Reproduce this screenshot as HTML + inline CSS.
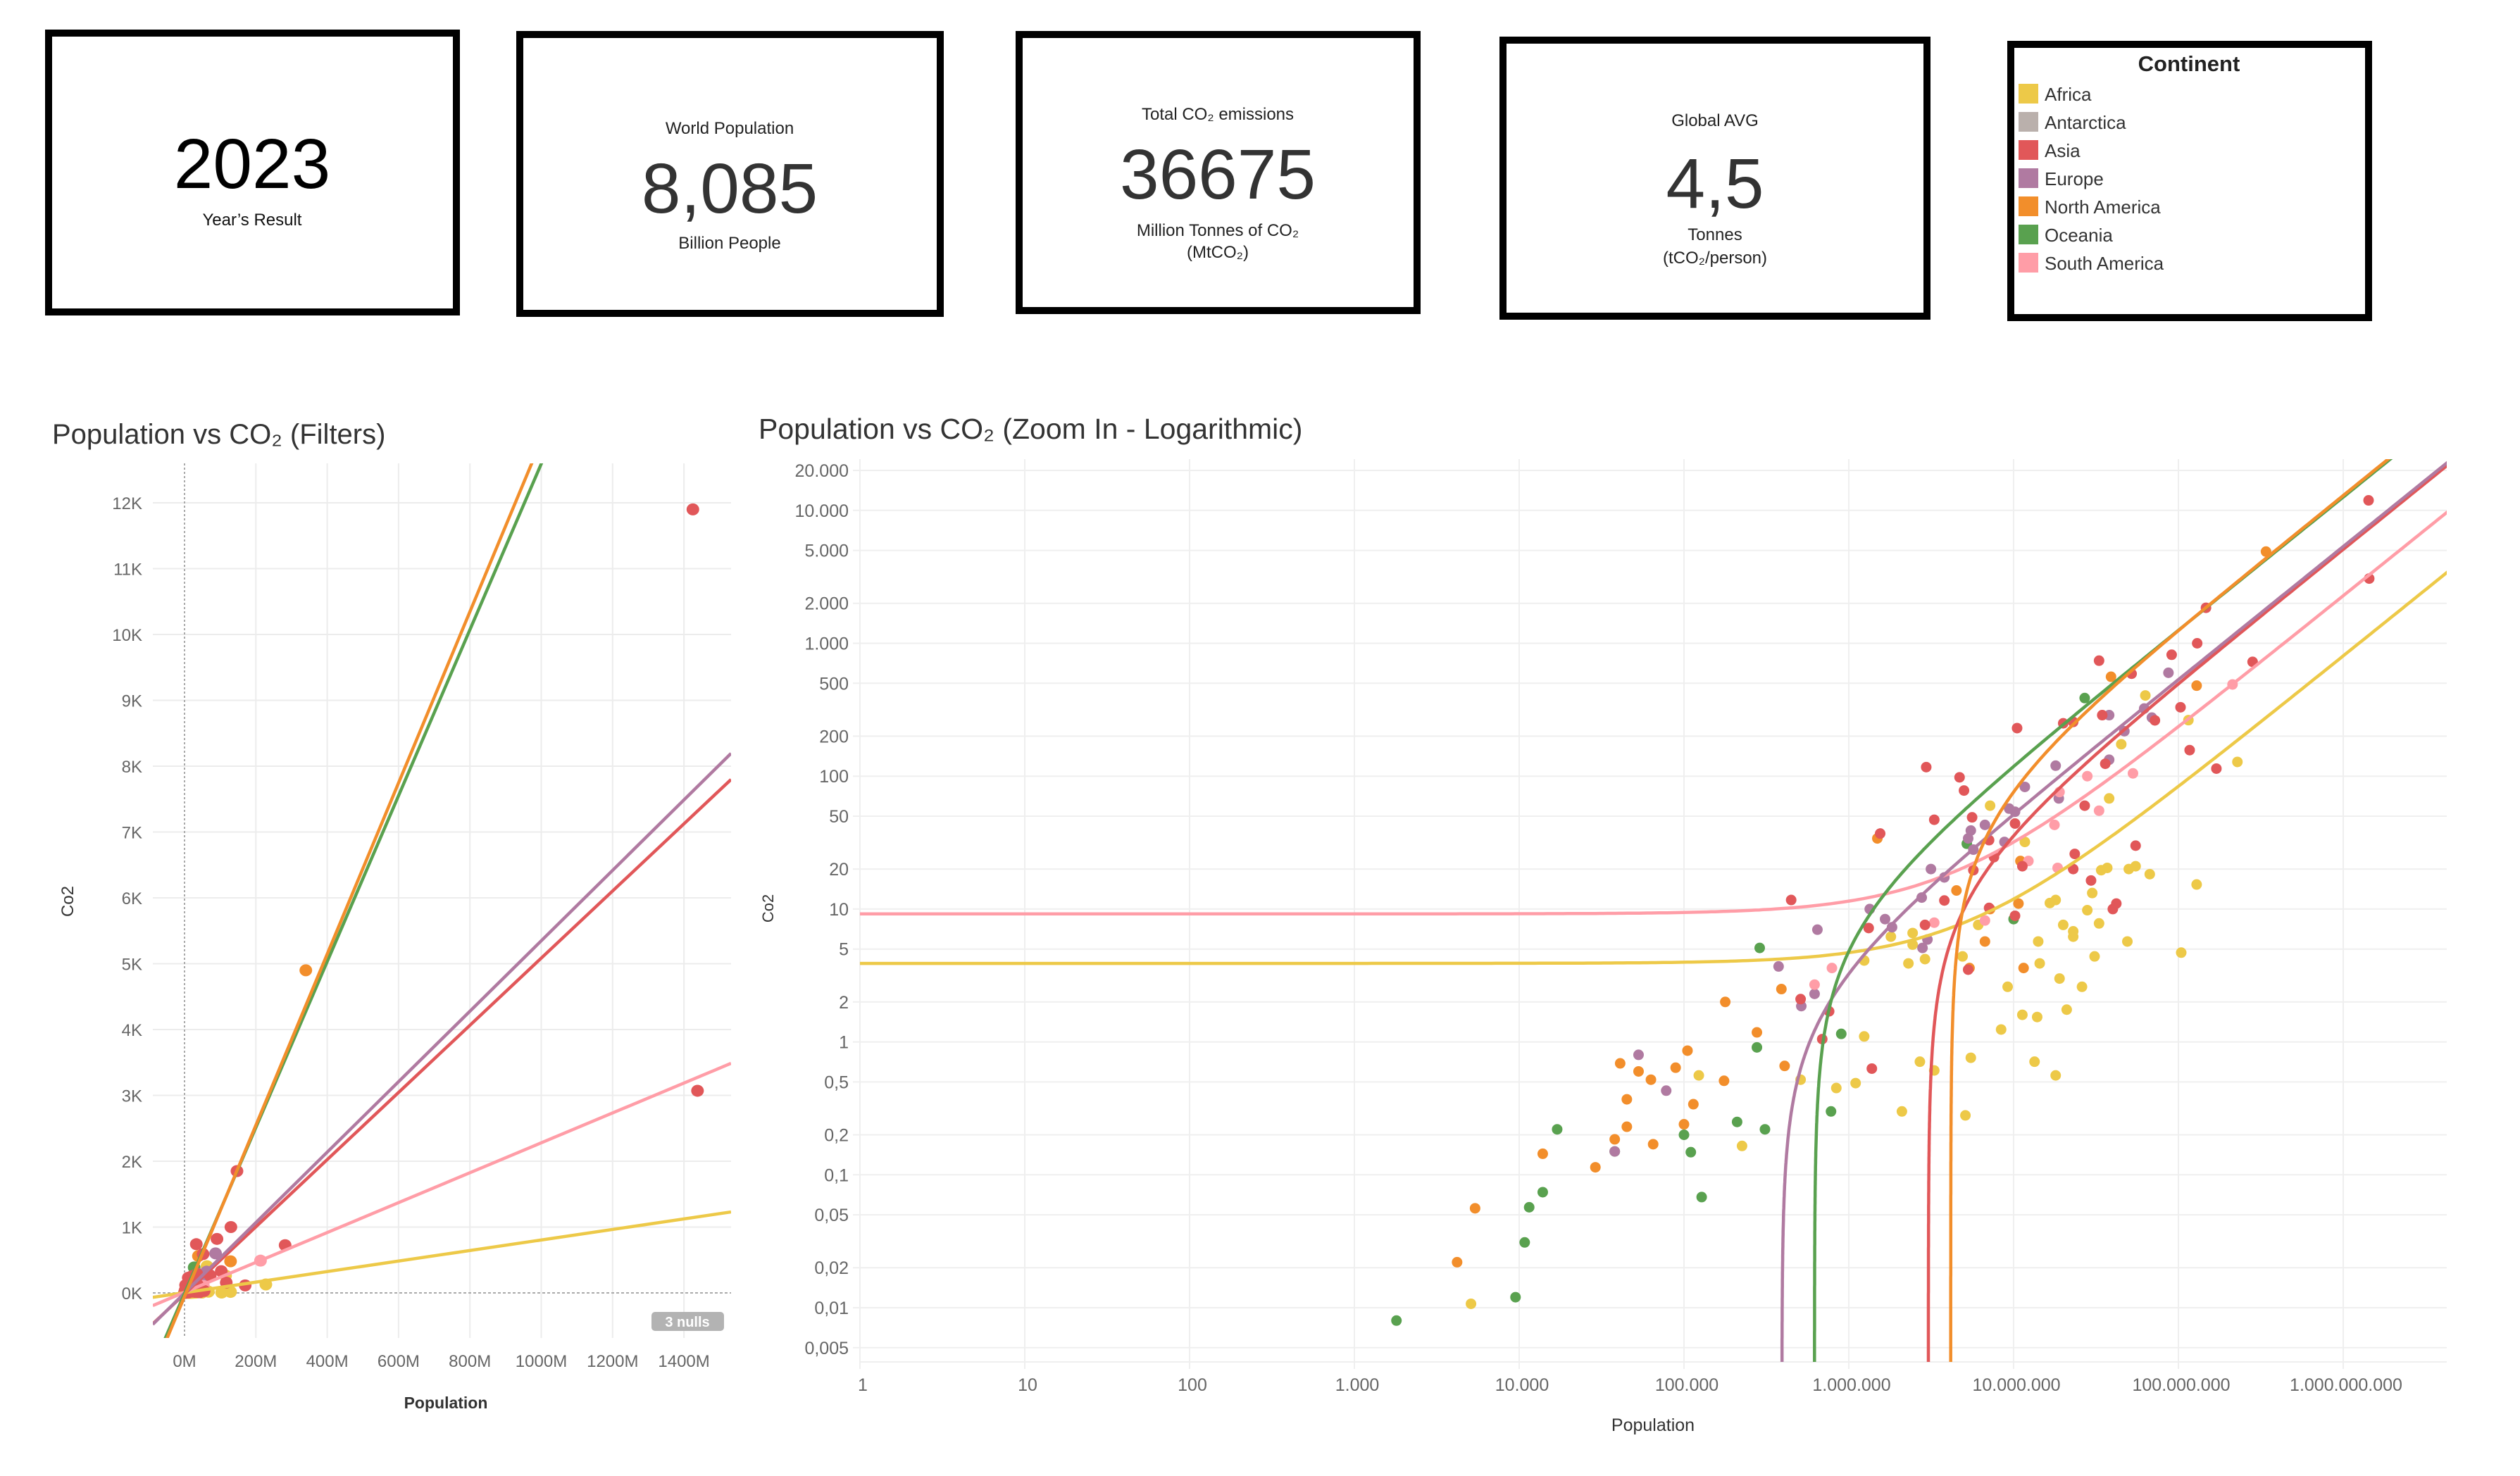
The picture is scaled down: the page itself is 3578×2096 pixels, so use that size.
<!DOCTYPE html>
<html><head><meta charset="utf-8"><title>Population vs CO2</title>
<style>
html,body{margin:0;padding:0;background:#fff;}
svg{display:block;}
.nar{font-family:"Liberation Sans Narrow","Liberation Sans",sans-serif;}
.reg{font-family:"Liberation Sans",sans-serif;}
</style></head>
<body>
<svg id="root" xmlns="http://www.w3.org/2000/svg" width="3578" height="2096" viewBox="0 0 3578 2096">
  <g>
    <rect x="69" y="47" width="579" height="396" fill="#fff" stroke="#000" stroke-width="10"/>
    <text x="358" y="267" text-anchor="middle" class="nar" font-size="100" fill="#000">2023</text>
    <text x="358" y="320" text-anchor="middle" class="nar" font-size="24" fill="#111">Year’s Result</text>
  </g>
  <g>
    <rect x="738" y="49" width="597" height="396" fill="#fff" stroke="#000" stroke-width="10"/>
    <text x="1036" y="190" text-anchor="middle" class="nar" font-size="24" fill="#222">World Population</text>
    <text x="1036" y="302" text-anchor="middle" class="nar" font-size="100" fill="#333">8,085</text>
    <text x="1036" y="353" text-anchor="middle" class="nar" font-size="24" fill="#222">Billion People</text>
  </g>
  <g>
    <rect x="1447" y="49" width="565" height="392" fill="#fff" stroke="#000" stroke-width="10"/>
    <text x="1729" y="170" text-anchor="middle" class="nar" font-size="24" fill="#222">Total CO₂ emissions</text>
    <text x="1729" y="282" text-anchor="middle" class="nar" font-size="100" fill="#333">36675</text>
    <text x="1729" y="335" text-anchor="middle" class="nar" font-size="24" fill="#222">Million Tonnes of CO₂</text>
    <text x="1729" y="366" text-anchor="middle" class="nar" font-size="24" fill="#222">(MtCO₂)</text>
  </g>
  <g>
    <rect x="2134" y="57" width="602" height="392" fill="#fff" stroke="#000" stroke-width="10"/>
    <text x="2435" y="179" text-anchor="middle" class="nar" font-size="24" fill="#222">Global AVG</text>
    <text x="2435" y="295" text-anchor="middle" class="nar" font-size="100" fill="#333">4,5</text>
    <text x="2435" y="341" text-anchor="middle" class="nar" font-size="24" fill="#222">Tonnes</text>
    <text x="2435" y="374" text-anchor="middle" class="nar" font-size="24" fill="#222">(tCO₂/person)</text>
  </g>
  <g id="legend">
    <rect x="2855" y="63" width="508" height="388" fill="#fff" stroke="#000" stroke-width="10"/>
    <text x="3108" y="101" text-anchor="middle" class="nar" font-size="31" font-weight="bold" fill="#222">Continent</text>
  </g>

  <text x="74" y="630" class="reg" font-size="40" fill="#333">Population vs CO₂ (Filters)</text>
  <text x="1077" y="623" class="nar" font-size="41" fill="#333">Population vs CO₂ (Zoom In - Logarithmic)</text>
  <text x="633" y="2000" text-anchor="middle" class="reg" font-size="23" font-weight="bold" fill="#333">Population</text>
  <text transform="translate(104,1280) rotate(-90)" text-anchor="middle" class="nar" font-size="24" fill="#333">Co2</text>
  <text x="2347" y="2032" text-anchor="middle" class="nar" font-size="25" fill="#333">Population</text>
  <text transform="translate(1098,1290) rotate(-90)" text-anchor="middle" class="reg" font-size="22" fill="#333">Co2</text>

  <defs>
    <clipPath id="clipL"><rect x="217" y="658" width="821" height="1242"/></clipPath>
    <clipPath id="clipR"><rect x="1221" y="652" width="2253" height="1282"/></clipPath>
  </defs>
  <g id="leftGrid"></g>
  <g id="leftMarks" clip-path="url(#clipL)"></g>
  <g id="leftAxes"></g>
  <g>
    <rect x="925" y="1863" width="103" height="27" rx="5" fill="#b3b3b3"/>
    <text x="976" y="1884" text-anchor="middle" class="reg" font-size="20" font-weight="bold" fill="#fff">3 nulls</text>
  </g>
  <g id="rightGrid"></g>
  <g id="rightMarks" clip-path="url(#clipR)"></g>
  <g id="rightAxes"></g>
</svg>
<script>
const continents = ['Africa','Antarctica','Asia','Europe','North America','Oceania','South America'];
const africaPop = [5100,225000,123000,510000,840000,1100000,1240000,1240000,1800000,2100000,2300000,2440000,2440000,2700000,2900000,3300000,4900000,5100000,5500000,6100000,7200000,8400000,9200000,11300000,11700000,13400000,13900000,14100000,14400000,16600000,18000000,18000000,19000000,20000000,21000000,23000000,23000000,26000000,28000000,30000000,31000000,33000000,34000000,37000000,38000000,45000000,49000000,50000000,55000000,63000000,67000000,104000000,115000000,129000000,228000000];
const africaCo2 = [0.0107,0.165,0.56,0.52,0.45,0.49,1.1,4.1,6.2,0.30,3.9,5.4,6.6,0.71,4.2,0.61,4.4,0.28,0.76,7.6,60,1.24,2.6,1.6,32,0.71,1.54,5.7,3.9,11.1,11.7,0.56,3.0,7.6,1.75,6.2,6.8,2.6,9.8,13.2,4.4,7.8,19.6,20.4,68,174,5.7,20,21,405,18.3,4.7,264,15.3,128];
const asiaPop = [447000,510000,760000,690000,1320000,1380000,1550000,2900000,2950000,3300000,3800000,4700000,5000000,5300000,5600000,5700000,7100000,7600000,7100000,10200000,10200000,10500000,11300000,20000000,23000000,23500000,23000000,27000000,29500000,33000000,34500000,36000000,40000000,42000000,52000000,55000000,72000000,91000000,103000000,117000000,130000000,147000000,170000000,282000000,1425000000,1438000000];
const asiaCo2 = [11.7,2.1,1.7,1.05,7.2,0.63,37,7.6,117,47,11.6,98,78,3.5,49,19.6,33,24.6,10.2,8.9,44,230,21,250,256,26,20,60,16.4,740,288,124,10,11,590,30,263,820,330,157,1000,1850,114,725,11900,3070];
const europePop = [38000,53000,78000,375000,515000,620000,645000,1340000,1660000,1830000,2770000,2800000,3000000,3150000,3800000,5300000,5500000,5700000,6700000,8800000,9400000,10200000,11700000,18000000,18800000,38000000,38000000,47000000,62000000,69000000,87000000];
const europeCo2 = [0.15,0.80,0.43,3.7,1.86,2.3,7.0,10,8.4,7.3,12.2,5.1,5.9,20,17.3,34,39,28,43,32,57,54,83,120,68,288,133,218,323,276,600];
const northAmericaPop = [4200,5400,13900,29000,38000,45000,41000,45000,53000,63000,65000,89000,105000,100000,114000,175000,178000,277000,390000,408000,1490000,4500000,5400000,6700000,7200000,10700000,11000000,11500000,39000000,129000000,340000000];
const northAmericaCo2 = [0.022,0.056,0.144,0.114,0.185,0.23,0.69,0.37,0.60,0.52,0.17,0.64,0.86,0.24,0.34,0.51,2.0,1.18,2.5,0.66,34,13.8,3.6,5.7,10,11,23,3.6,560,480,4900];
const oceaniaPop = [1800,9500,10800,11500,13900,17000,38000,100000,110000,128000,210000,277000,288000,310000,780000,900000,5200000,10000000,27000000];
const oceaniaCo2 = [0.008,0.012,0.031,0.057,0.074,0.22,0.15,0.20,0.148,0.068,0.25,0.91,5.1,0.22,0.30,1.15,31,8.4,387];
const southAmericaPop = [620000,790000,3300000,6700000,12300000,17700000,19000000,18500000,28000000,33000000,53000000,213000000];
const southAmericaCo2 = [2.7,3.6,7.9,8.2,23,43,76,20.4,100,55,105,490];
const trendContinents = ['Africa','South America','Asia','Europe','Oceania','North America'];
const trendSlope = [0.80,2.27,5.1,5.35,12.6,13.0];
const trendIntercept = [3.9,9.2,-15.5,-2.1,-7.8,-54];
const leftXTicks = [0,200,400,600,800,1000,1200,1400];
const leftXTickLabels = ['0M','200M','400M','600M','800M','1000M','1200M','1400M'];
const leftYTicks = [0,1,2,3,4,5,6,7,8,9,10,11,12];
const leftYTickLabels = ['0K','1K','2K','3K','4K','5K','6K','7K','8K','9K','10K','11K','12K'];
const rightXTicks = [1,10,100,1000,10000,100000,1000000,10000000,100000000,1000000000];
const rightXTickLabels = ['1','10','100','1.000','10.000','100.000','1.000.000','10.000.000','100.000.000','1.000.000.000'];
const rightYTicks = [20000,10000,5000,2000,1000,500,200,100,50,20,10,5,2,1,0.5,0.2,0.1,0.05,0.02,0.01,0.005];
const rightYTickLabels = ['20.000','10.000','5.000','2.000','1.000','500','200','100','50','20','10','5','2','1','0,5','0,2','0,1','0,05','0,02','0,01','0,005'];

const colorOf = {'Africa':'#EDC948','Antarctica':'#BAB0AC','Asia':'#E15759','Europe':'#B07AA1','North America':'#F28E2B','Oceania':'#59A14F','South America':'#FF9DA7'};
const series = [
  ['Africa', africaPop, africaCo2],
  ['Oceania', oceaniaPop, oceaniaCo2],
  ['North America', northAmericaPop, northAmericaCo2],
  ['Europe', europePop, europeCo2],
  ['South America', southAmericaPop, southAmericaCo2],
  ['Asia', asiaPop, asiaCo2]
];

const L = {x0:217, x1:1038, y0:658, y1:1900};
function xL(popM){ return 262 + popM*(101.3/200); }
function yL(kt){ return 1836 - kt*93.5; }
const R = {x0:1221, x1:3474, y0:652, y1:1934};
function xR(p){ return 1221 + Math.log10(p)*234; }
function yR(c){ return 668 - (Math.log10(c) - Math.log10(20000))*188.7; }

const NS = 'http://www.w3.org/2000/svg';
function mk(tag, parent){ const e = document.createElementNS(NS, tag); parent.appendChild(e); return e; }
const kebab = s => s.toLowerCase().replace(/\s+/g,'-');

const legend = document.getElementById('legend');
continents.forEach((c,i)=>{
  const g = mk('g', legend);
  
  
  const r = mk('rect', g);
  r.setAttribute('x', 2866); r.setAttribute('y', 119 + i*40); r.setAttribute('width', 28); r.setAttribute('height', 28);
  r.setAttribute('fill', colorOf[c]);
  
  
  const t = mk('text', g);
  t.setAttribute('x', 2903); t.setAttribute('y', 143 + i*40);
  t.setAttribute('class','nar'); t.setAttribute('font-size', 26); t.setAttribute('fill', '#333');
  t.textContent = c;
  
  
});

const lg = document.getElementById('leftGrid');
const la = document.getElementById('leftAxes');
const lm = document.getElementById('leftMarks');
leftXTicks.forEach((v,i)=>{
  if (v !== 0) {
    const ln = mk('line', lg);
    ln.setAttribute('x1', xL(v)); ln.setAttribute('x2', xL(v)); ln.setAttribute('y1', L.y0); ln.setAttribute('y2', L.y1);
    ln.setAttribute('stroke', '#ececec'); ln.setAttribute('stroke-width', 2);
    
    
  }
  const t = mk('text', la);
  t.setAttribute('x', xL(v)); t.setAttribute('y', 1941); t.setAttribute('text-anchor','middle');
  t.setAttribute('class','reg'); t.setAttribute('font-size', 24); t.setAttribute('fill', '#666');
  t.textContent = leftXTickLabels[i];
  
  
});
leftYTicks.forEach((v,i)=>{
  if (v !== 0) {
    const ln = mk('line', lg);
    ln.setAttribute('x1', L.x0); ln.setAttribute('x2', L.x1); ln.setAttribute('y1', yL(v)); ln.setAttribute('y2', yL(v));
    ln.setAttribute('stroke', '#ececec'); ln.setAttribute('stroke-width', 2);
    
    
  }
  const t = mk('text', la);
  t.setAttribute('x', 202); t.setAttribute('y', yL(v) + 9); t.setAttribute('text-anchor','end');
  t.setAttribute('class','reg'); t.setAttribute('font-size', 24); t.setAttribute('fill', '#666');
  t.textContent = leftYTickLabels[i];
  
  
});
{
  const zx = mk('line', lg);
  zx.setAttribute('x1', xL(0)); zx.setAttribute('x2', xL(0)); zx.setAttribute('y1', L.y0); zx.setAttribute('y2', L.y1);
  zx.setAttribute('stroke', '#aaa'); zx.setAttribute('stroke-width', 2); zx.setAttribute('stroke-dasharray', '3 3');
  
  
  const zy = mk('line', lg);
  zy.setAttribute('x1', L.x0); zy.setAttribute('x2', L.x1); zy.setAttribute('y1', yL(0)); zy.setAttribute('y2', yL(0));
  zy.setAttribute('stroke', '#aaa'); zy.setAttribute('stroke-width', 2); zy.setAttribute('stroke-dasharray', '4 3');
  
  
}
series.forEach(([c, pops, co2s])=>{
  pops.forEach((p,i)=>{
    const e = mk('ellipse', lm);
    e.setAttribute('cx', xL(p/1e6)); e.setAttribute('cy', yL(co2s[i]/1000));
    e.setAttribute('rx', 9); e.setAttribute('ry', 8.5); e.setAttribute('fill', colorOf[c]);
    
    
  });
});
trendContinents.forEach((c,i)=>{
  const xa = -89, xb = 1532;
  const ln = mk('line', lm);
  ln.setAttribute('x1', xL(xa)); ln.setAttribute('y1', yL((trendSlope[i]*xa + trendIntercept[i])/1000));
  ln.setAttribute('x2', xL(xb)); ln.setAttribute('y2', yL((trendSlope[i]*xb + trendIntercept[i])/1000));
  ln.setAttribute('stroke', colorOf[c]); ln.setAttribute('stroke-width', 4.5);
  
  
});

const rg = document.getElementById('rightGrid');
const ra = document.getElementById('rightAxes');
const rm = document.getElementById('rightMarks');
rightXTicks.forEach((v,i)=>{
  const ln = mk('line', rg);
  ln.setAttribute('x1', xR(v)); ln.setAttribute('x2', xR(v)); ln.setAttribute('y1', R.y0); ln.setAttribute('y2', R.y1 + 10);
  ln.setAttribute('stroke', '#efefef'); ln.setAttribute('stroke-width', 2);
  
  
  const t = mk('text', ra);
  t.setAttribute('x', xR(v) + 4); t.setAttribute('y', 1975); t.setAttribute('text-anchor','middle');
  t.setAttribute('class','nar'); t.setAttribute('font-size', 25); t.setAttribute('fill', '#666');
  t.textContent = rightXTickLabels[i];
  
  
});
rightYTicks.forEach((v,i)=>{
  const ln = mk('line', rg);
  ln.setAttribute('x1', R.x0 - 10); ln.setAttribute('x2', R.x1); ln.setAttribute('y1', yR(v)); ln.setAttribute('y2', yR(v));
  ln.setAttribute('stroke', '#efefef'); ln.setAttribute('stroke-width', 2);
  
  
  const t = mk('text', ra);
  t.setAttribute('x', 1205); t.setAttribute('y', yR(v) + 9); t.setAttribute('text-anchor','end');
  t.setAttribute('class','nar'); t.setAttribute('font-size', 25); t.setAttribute('fill', '#666');
  t.textContent = rightYTickLabels[i];
  
  
});
{
  const b = mk('line', rg);
  b.setAttribute('x1', R.x0); b.setAttribute('x2', R.x1); b.setAttribute('y1', R.y1); b.setAttribute('y2', R.y1);
  b.setAttribute('stroke', '#efefef'); b.setAttribute('stroke-width', 2);
  
  
}
series.forEach(([c, pops, co2s])=>{
  pops.forEach((p,i)=>{
    const e = mk('ellipse', rm);
    e.setAttribute('cx', xR(p)); e.setAttribute('cy', yR(co2s[i]));
    e.setAttribute('rx', 7.5); e.setAttribute('ry', 7.5); e.setAttribute('fill', colorOf[c]);
    
    
  });
});
trendContinents.forEach((c,i)=>{
  const a = trendSlope[i]/1e6, b = trendIntercept[i];
  const pts = [];
  if (b >= 0) {
    for (let k=0;k<=400;k++){
      const lx = 0 + k*(9.7/400);
      const x = Math.pow(10, lx);
      const y = a*x + b;
      pts.push(xR(x).toFixed(1) + ',' + yR(y).toFixed(1));
    }
  } else {
    for (let k=0;k<=400;k++){
      const ly = -2.6 + k*(7.2/400);
      const y = Math.pow(10, ly);
      const x = (y - b)/a;
      pts.push(xR(x).toFixed(1) + ',' + yR(y).toFixed(1));
    }
  }
  const pl = mk('polyline', rm);
  pl.setAttribute('points', pts.join(' '));
  pl.setAttribute('fill', 'none'); pl.setAttribute('stroke', colorOf[c]); pl.setAttribute('stroke-width', 4.5);
  
  
});
</script>
</body></html>
